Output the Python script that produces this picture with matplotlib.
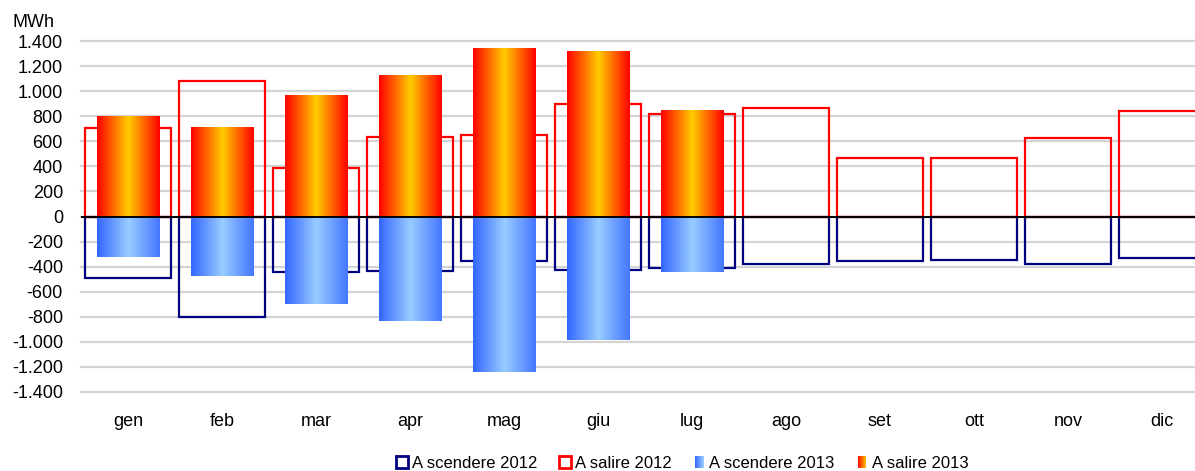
import numpy as np
import matplotlib.pyplot as plt
from matplotlib.patches import Rectangle
from matplotlib.legend_handler import HandlerBase
from matplotlib.ticker import FuncFormatter

plt.rcParams['font.family'] = ['Liberation Sans', 'DejaVu Sans']

# Monthly energy (MWh): upward and downward, 2012 vs 2013
months = ['gen', 'feb', 'mar', 'apr', 'mag', 'giu', 'lug', 'ago', 'set', 'ott', 'nov', 'dic']
salire_2012 = [704, 1080, 389, 635, 648, 901, 821, 864, 469, 469, 624, 843]
scendere_2012 = [-491, -805, -440, -432, -355, -424, -413, -381, -355, -349, -376, -333]
salire_2013 = [800, 712, 968, 1128, 1344, 1320, 848]
scendere_2013 = [-325, -477, -701, -837, -1237, -989, -445]

RED = '#FF0000'
NAVY = '#000080'


def gradient(stops, n=256):
    pos = [p for p, _ in stops]
    rgb = np.array([c for _, c in stops]) / 255.0
    t = np.linspace(0, 1, n)
    return np.stack([np.interp(t, pos, rgb[:, k]) for k in range(3)], axis=1)


orange_grad = gradient([(0, (255, 0, 0)), (0.5, (255, 204, 0)), (1, (255, 0, 0))])
blue_grad = gradient([(0, (51, 102, 255)), (0.5, (153, 204, 255)), (1, (68, 119, 255))])


class GradientHandler(HandlerBase):
    def __init__(self, colors=None, edge=None, frac=1.0):
        super().__init__()
        self.colors = colors
        self.edge = edge
        self.frac = frac

    def create_artists(self, legend, orig_handle, xdescent, ydescent,
                       width, height, fontsize, trans):
        w = width * self.frac
        x0 = -xdescent + (width - w) / 2
        y0 = -ydescent
        if self.colors is None:
            return [Rectangle((x0, y0), w, height, facecolor='white',
                              edgecolor=self.edge, linewidth=2, transform=trans)]
        # only the left half of the gradient, as a small swatch
        step = self.colors[:128:4]
        sw = w / len(step)
        return [Rectangle((x0 + i * sw, y0), sw * 1.3, height, facecolor=c,
                          edgecolor='none', linewidth=0, transform=trans)
                for i, c in enumerate(step)]


fig = plt.figure(figsize=(11.95, 4.71), dpi=100)
# plot area runs a little past the right edge of the figure
ax = fig.add_axes([81 / 1195, 79 / 471, 1128 / 1195, 351 / 471])

x = np.arange(len(months))
x13 = x[:len(salire_2013)]

box_w = 0.925
bar_w = 0.67

h_sc12 = ax.bar(x, scendere_2012, width=box_w, facecolor='none',
                edgecolor=NAVY, linewidth=1.6, zorder=2)
h_sa12 = ax.bar(x, salire_2012, width=box_w, facecolor='none',
                edgecolor=RED, linewidth=1.6, zorder=2)
h_sc13 = ax.bar(x13, scendere_2013, width=bar_w, color='none', zorder=3)
h_sa13 = ax.bar(x13, salire_2013, width=bar_w, color='none', zorder=3)

# fill the 2013 bars with horizontal gradients
for bars, grad in ((h_sa13, orange_grad), (h_sc13, blue_grad)):
    for b in bars:
        bx, by = b.get_x(), b.get_y()
        bw, bh = b.get_width(), b.get_height()
        ax.imshow(grad[np.newaxis, :, :], extent=[bx, bx + bw, by, by + bh],
                  aspect='auto', interpolation='bilinear', zorder=3)

ax.set_xlim(-0.5, len(months) - 0.5)
ax.set_ylim(-1400, 1400)
ax.set_yticks(np.arange(-1400, 1401, 200))
ax.yaxis.set_major_formatter(FuncFormatter(lambda v, _: f'{int(v):,}'.replace(',', '.')))
ax.set_xticks(x, months)
ax.tick_params(axis='y', length=0, pad=13, labelsize=13)
ax.tick_params(axis='x', length=0, pad=15, labelsize=13)

ax.grid(axis='y', color='#D4D4D4', linewidth=1.6, zorder=0)
ax.set_axisbelow(True)
for gl in ax.get_ygridlines():
    gl.set_clip_on(False)
for s in ax.spines.values():
    s.set_visible(False)
ax.axhline(0, color='black', linewidth=1.4, zorder=5)

fig.text(12 / 1195, 0.952, 'MWh', fontsize=13, ha='left', va='center')

fig.legend([h_sc12, h_sa12, h_sc13, h_sa13],
           ['A scendere 2012', 'A salire 2012', 'A scendere 2013', 'A salire 2013'],
           handler_map={h_sc12: GradientHandler(edge=NAVY, frac=1.0),
                        h_sa12: GradientHandler(edge=RED, frac=1.0),
                        h_sc13: GradientHandler(colors=list(blue_grad), frac=0.7),
                        h_sa13: GradientHandler(colors=list(orange_grad), frac=0.7)},
           loc='center', bbox_to_anchor=(682 / 1195, 8 / 471), ncol=4,
           frameon=False, fontsize=12, handlelength=0.75, handleheight=0.75,
           handletextpad=0.2, columnspacing=1.3, borderpad=0)

fig.savefig('out.png', dpi=100)
